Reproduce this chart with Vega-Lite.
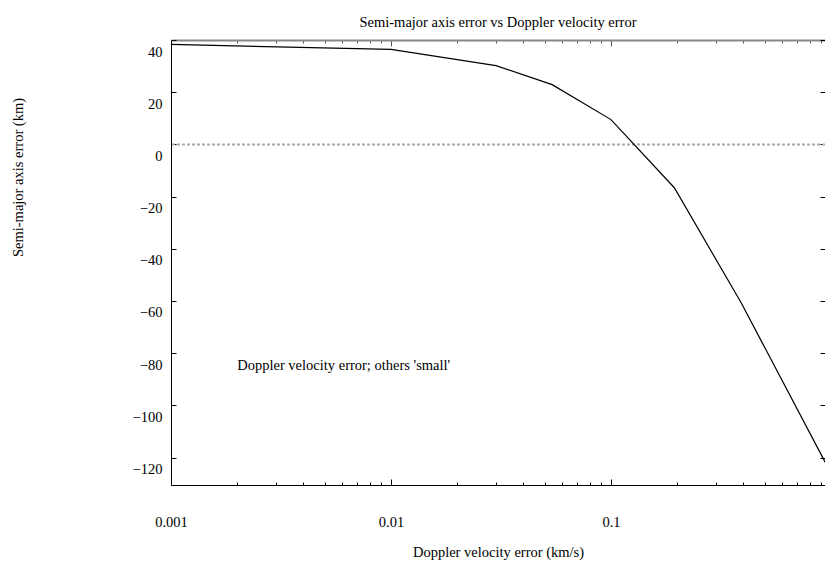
{
  "$schema": "https://vega.github.io/schema/vega-lite/v6.json",
  "width": 654,
  "height": 445,
  "autosize": {"type": "none"},
  "padding": {"left": 171, "top": 40, "right": 0, "bottom": 76},
  "background": "white",
  "config": {
    "view": {"stroke": null},
    "font": "Liberation Serif",
    "axis": {"grid": false, "labelFont": "Liberation Serif", "titleFont": "Liberation Serif", "labelColor": "black", "titleColor": "black", "labelFontSize": 14.5, "titleFontSize": 14.5, "titleFontWeight": "normal", "labelFlush": false, "labelOverlap": false}
  },
  "title": {"text": "Semi-major axis error vs Doppler velocity error", "fontSize": 14.5, "fontWeight": "normal", "font": "Liberation Serif", "color": "black", "anchor": "middle", "offset": 9},
  "resolve": {"axis": {"x": "independent", "y": "independent"}},
  "layer": [
    {
      "data": {"values": [{"y": 0}]},
      "mark": {"type": "rule", "color": "#aaaaaa", "strokeWidth": 2, "strokeDash": [3, 2]},
      "encoding": {
        "y": {"field": "y", "type": "quantitative", "scale": {"domain": [-130.5, 40], "nice": false, "zero": false},
          "axis": {"orient": "right", "values": [-120, -100, -80, -60, -40, -20, 0, 20, 40], "labels": false, "domain": false, "tickSize": -5, "tickColor": "black", "title": null}}
      }
    },
    {
      "data": {"values": [
        {"x": 0.001, "y": 38.3},
        {"x": 0.01, "y": 36.4},
        {"x": 0.03, "y": 30.2},
        {"x": 0.054, "y": 22.9},
        {"x": 0.1, "y": 9.5},
        {"x": 0.194, "y": -16.6},
        {"x": 0.39, "y": -60.6},
        {"x": 1, "y": -126}
      ]},
      "mark": {"type": "line", "color": "black", "strokeWidth": 1.2, "clip": true},
      "encoding": {
        "x": {"field": "x", "type": "quantitative", "scale": {"type": "log", "domain": [0.001, 0.9391], "nice": false},
          "axis": {"orient": "bottom", "title": "Doppler velocity error (km/s)",
            "values": [0.001, 0.002, 0.003, 0.004, 0.005, 0.006, 0.007, 0.008, 0.009, 0.01, 0.02, 0.03, 0.04, 0.05, 0.06, 0.07, 0.08, 0.09, 0.1, 0.2, 0.3, 0.4, 0.5, 0.6, 0.7, 0.8, 0.9],
            "labelExpr": "datum.value == 0.001 ? '0.001' : datum.value == 0.01 ? '0.01' : datum.value == 0.1 ? '0.1' : ''",
            "tickSize": {"condition": {"test": "datum.value == 0.001 || datum.value == 0.01 || datum.value == 0.1", "value": -6}, "value": -3},
            "labelPadding": 36, "labelBaseline": "top", "labelAlign": "center",
            "domainColor": "black", "tickColor": "black",
            "titleY": 67, "titleBaseline": "middle"}},
        "y": {"field": "y", "type": "quantitative", "scale": {"domain": [-130.5, 40], "nice": false, "zero": false},
          "axis": {"orient": "left", "title": "Semi-major axis error (km)", "values": [-120, -100, -80, -60, -40, -20, 0, 20, 40],
            "tickSize": -5, "labelPadding": 14, "labelOffset": 12, "labelBaseline": "middle", "labelAlign": "right",
            "domainColor": "black", "tickColor": "black",
            "titleX": -153, "titleY": 137, "titleAngle": 270, "titleAlign": "center", "titleBaseline": "middle"}}
      }
    },
    {
      "data": {"values": [{"x": 0.002, "y": -85, "label": "Doppler velocity error; others 'small'"}]},
      "mark": {"type": "text", "align": "left", "baseline": "middle", "font": "Liberation Serif", "fontSize": 14.5, "color": "black"},
      "encoding": {
        "x": {"field": "x", "type": "quantitative", "scale": {"type": "log", "domain": [0.001, 0.9391], "nice": false},
          "axis": {"orient": "top", "title": null,
            "values": [0.001, 0.002, 0.003, 0.004, 0.005, 0.006, 0.007, 0.008, 0.009, 0.01, 0.02, 0.03, 0.04, 0.05, 0.06, 0.07, 0.08, 0.09, 0.1, 0.2, 0.3, 0.4, 0.5, 0.6, 0.7, 0.8, 0.9],
            "labels": false,
            "tickSize": {"condition": {"test": "datum.value == 0.001 || datum.value == 0.01 || datum.value == 0.1", "value": -6}, "value": -3},
            "domainColor": "#888888", "domainWidth": 2, "tickColor": "#555555"}},
        "y": {"field": "y", "type": "quantitative", "scale": {"domain": [-130.5, 40], "nice": false, "zero": false}, "axis": null},
        "text": {"field": "label", "type": "nominal"}
      }
    }
  ]
}
